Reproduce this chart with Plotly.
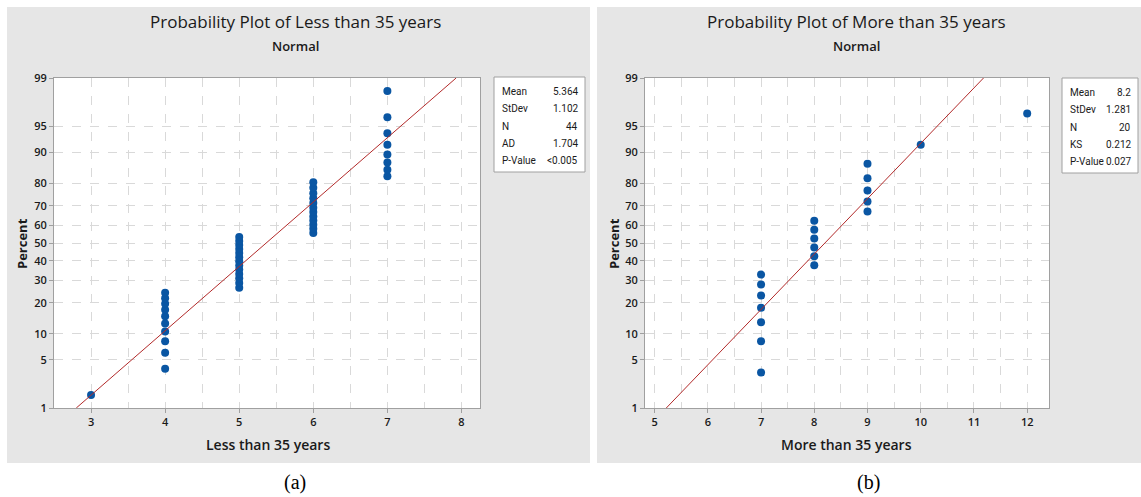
import plotly.graph_objects as go
from statistics import NormalDist

# ---------------- data ----------------
less_x = [3,
          4, 4, 4, 4, 4, 4, 4, 4, 4, 4,
          5, 5, 5, 5, 5, 5, 5, 5, 5, 5, 5, 5, 5,
          6, 6, 6, 6, 6, 6, 6, 6, 6, 6, 6, 6,
          7, 7, 7, 7, 7, 7, 7, 7]
less_pct = [1.6,
            3.8, 6.1, 8.3, 10.6, 12.8, 15.1, 17.3, 19.6, 21.8, 24.1,
            26.4, 28.6, 30.9, 33.1, 35.4, 37.6, 39.9, 42.1, 44.4, 46.6, 48.9, 51.1, 53.4,
            55.6, 57.9, 60.1, 62.4, 64.6, 66.9, 69.1, 71.4, 73.6, 75.9, 78.2, 80.4,
            82.7, 84.9, 87.2, 89.4, 91.7, 93.9, 96.2, 98.4]
less_mean = 5.364
less_sd = 1.102

more_x = [7, 7, 7, 7, 7, 7, 7,
          8, 8, 8, 8, 8, 8,
          9, 9, 9, 9, 9,
          10,
          12]
more_pct = [3.4, 8.3, 13.2, 18.1, 23.0, 27.9, 32.8,
            37.7, 42.6, 47.5, 52.5, 57.4, 62.3,
            67.2, 72.1, 77.0, 81.9, 86.8,
            91.7,
            96.6]
more_mean = 8.2
more_sd = 1.281

pct_ticks = [1, 5, 10, 20, 30, 40, 50, 60, 70, 80, 90, 95, 99]
less_xticks = [3, 4, 5, 6, 7, 8]
more_xticks = [5, 6, 7, 8, 9, 10, 11, 12]

less_stat_labels = ["Mean", "StDev", "N", "AD", "P-Value"]
less_stat_values = ["5.364", "1.102", "44", "1.704", "<0.005"]
more_stat_labels = ["Mean", "StDev", "N", "KS", "P-Value"]
more_stat_values = ["8.2", "1.281", "20", "0.212", "0.027"]

titles = ["Probability Plot of Less than 35 years", "Probability Plot of More than 35 years"]
xtitles = ["Less than 35 years", "More than 35 years"]
captions = ["(a)", "(b)"]

# ---------------- helpers ----------------
W, H = 1141, 497
nd = NormalDist()
def px(x): return x / W
def py(y): return 1 - y / H
def z(p): return nd.inv_cdf(p / 100.0)

DOT = "#0a56a3"
FIT = "#b22a2a"
GRID = "#d9d9d9"
AX = "#a0a0a0"
TXT = "#1a1a1a"
PANEL = "#e6e6e6"
FONT = "Open Sans"
SFONT = "Roboto"

zlo, zhi = z(1), z(99)

fig = go.Figure()

panels = [
    dict(x=less_x, pct=less_pct, mean=less_mean, sd=less_sd, xa="x", ya="y",
         xdom=(54, 480), xr=(2.5, 8.25), xt=less_xticks,
         labels=less_stat_labels, values=less_stat_values,
         box=(494, 77, 585, 172), pan=(7, 7, 590, 463), tcx=295, xtcx=268, pcx=22, capx=295),
    dict(x=more_x, pct=more_pct, mean=more_mean, sd=more_sd, xa="x2", ya="y2",
         xdom=(645, 1049), xr=(4.82, 12.41), xt=more_xticks,
         labels=more_stat_labels, values=more_stat_values,
         box=(1062, 78, 1138, 173), pan=(597, 7, 1141, 463), tcx=856, xtcx=846, pcx=614, capx=868),
]

shapes = []
annotations = []
PT, PB = 78, 408

for i, p in enumerate(panels):
    fig.add_trace(go.Scatter(
        x=p["x"], y=[z(v) for v in p["pct"]], mode="markers",
        marker=dict(color=DOT, size=8, line=dict(width=0)),
        xaxis=p["xa"], yaxis=p["ya"], showlegend=False, cliponaxis=False))
    fig.add_trace(go.Scatter(
        x=[p["mean"] + zlo * p["sd"], p["mean"] + zhi * p["sd"]], y=[zlo, zhi],
        mode="lines", line=dict(color=FIT, width=1),
        xaxis=p["xa"], yaxis=p["ya"], showlegend=False))

    x0, y0, x1, y1 = p["pan"]
    shapes.append(dict(type="rect", xref="paper", yref="paper", layer="below",
                       x0=px(x0), x1=px(x1), y0=py(y1), y1=py(y0),
                       fillcolor=PANEL, line=dict(width=0)))
    shapes.append(dict(type="rect", xref="paper", yref="paper", layer="below",
                       x0=px(p["xdom"][0]), x1=px(p["xdom"][1]), y0=py(PB), y1=py(PT),
                       fillcolor="white", line=dict(width=0)))
    bx0, by0, bx1, by1 = p["box"]
    shapes.append(dict(type="rect", xref="paper", yref="paper", layer="above",
                       x0=px(bx0), x1=px(bx1), y0=py(by1), y1=py(by0),
                       fillcolor="white", line=dict(color=AX, width=1)))
    for k, (lab, val) in enumerate(zip(p["labels"], p["values"])):
        yy = 91.5 + k * 17.3 + (1 if i == 1 else 0)
        annotations.append(dict(text=lab, x=px(bx0 + 6), y=py(yy), xref="paper", yref="paper",
                                xanchor="left", yanchor="middle", showarrow=False,
                                font=dict(family=SFONT, size=10, color=TXT)))
        annotations.append(dict(text=val, x=px(bx1 - 5), y=py(yy), xref="paper", yref="paper",
                                xanchor="right", yanchor="middle", showarrow=False,
                                font=dict(family=SFONT, size=10, color=TXT)))
    annotations.append(dict(text=titles[i], x=px(p["tcx"]), y=py(22), xref="paper", yref="paper",
                            xanchor="center", yanchor="middle", showarrow=False,
                            font=dict(family=FONT, size=17, color=TXT)))
    annotations.append(dict(text="Normal", x=px(p["tcx"]), y=py(46), xref="paper", yref="paper",
                            xanchor="center", yanchor="middle", showarrow=False,
                            font=dict(family=FONT, size=13, color=TXT, weight=600)))
    annotations.append(dict(text=xtitles[i], x=px(p["xtcx"]), y=py(444), xref="paper", yref="paper",
                            xanchor="center", yanchor="middle", showarrow=False,
                            font=dict(family=FONT, size=14, color=TXT, weight=600)))
    annotations.append(dict(text="Percent", x=px(p["pcx"]), y=py(244), xref="paper", yref="paper",
                            xanchor="center", yanchor="middle", showarrow=False, textangle=-90,
                            font=dict(family=FONT, size=13, color=TXT, weight=700)))
    annotations.append(dict(text=captions[i], x=px(p["capx"]), y=py(482), xref="paper", yref="paper",
                            xanchor="center", yanchor="middle", showarrow=False,
                            font=dict(family="Liberation Serif", size=20, color="black")))

    axname_x = "xaxis" if i == 0 else "xaxis2"
    axname_y = "yaxis" if i == 0 else "yaxis2"
    fig.update_layout(**{
        axname_x: dict(domain=[px(p["xdom"][0]), px(p["xdom"][1])], range=list(p["xr"]),
                       anchor=p["ya"], tickmode="array", tickvals=p["xt"],
                       ticks="outside", ticklen=4, tickcolor=AX,
                       showline=True, mirror=True, linecolor=AX, linewidth=1,
                       showgrid=True, gridcolor=GRID, griddash="dash", gridwidth=1,
                       minor=dict(dtick=0.5, tick0=0, showgrid=True, gridcolor=GRID,
                                  griddash="dash", ticks=""),
                       zeroline=False, fixedrange=True, automargin=False,
                       tickfont=dict(family=FONT, size=11, color=TXT, weight=600)),
        axname_y: dict(domain=[py(PB), py(PT)], range=[zlo, zhi], anchor=p["xa"],
                       tickmode="array", tickvals=[z(v) for v in pct_ticks],
                       ticktext=[str(v) for v in pct_ticks],
                       ticks="outside", ticklen=4, tickcolor=AX,
                       showline=True, mirror=True, linecolor=AX, linewidth=1,
                       showgrid=True, gridcolor=GRID, griddash="dash", gridwidth=1,
                       zeroline=False, fixedrange=True, automargin=False,
                       tickfont=dict(family=FONT, size=11, color=TXT, weight=600)),
    })

fig.update_layout(
    width=W, height=H, margin=dict(l=0, r=0, t=0, b=0, pad=0, autoexpand=False),
    paper_bgcolor="white", plot_bgcolor="rgba(0,0,0,0)",
    shapes=shapes, annotations=annotations, showlegend=False,
)

fig.write_html("out.html", config={"displayModeBar": False})
